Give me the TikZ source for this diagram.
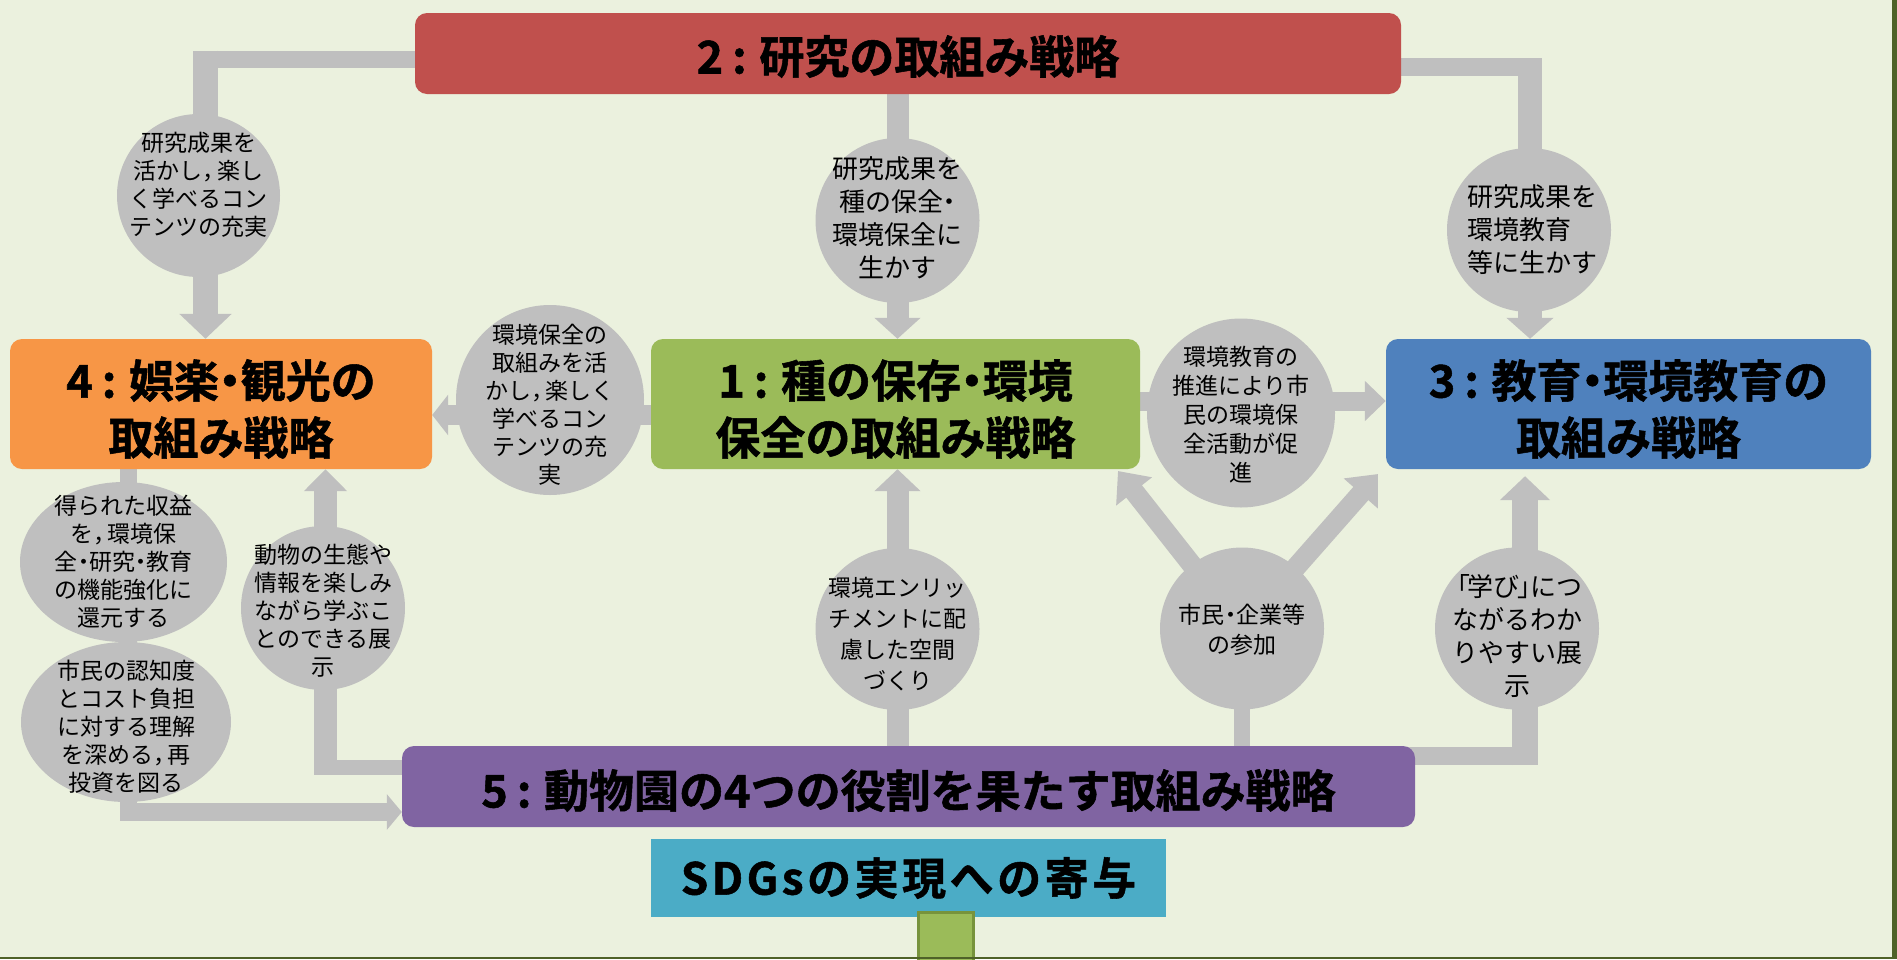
\documentclass[tikz,border=0pt]{standalone}
\usepackage{fontspec}
\newfontfamily\jp{Noto Sans CJK JP}[BoldFont={Noto Sans CJK JP Bold}]
\newfontfamily\jpt{Noto Sans CJK JP Bold}[FakeBold=1.2]
\usetikzlibrary{arrows.meta,shapes.geometric}
\pgfdeclarelayer{back}
\pgfdeclarelayer{conns}
\pgfsetlayers{back,conns,main}
\definecolor{bgc}{RGB}{235,241,222}
\definecolor{gr}{RGB}{191,191,191}
\definecolor{cred}{RGB}{192,80,77}
\definecolor{cgreen}{RGB}{155,187,89}
\definecolor{cblue}{RGB}{79,129,189}
\definecolor{corange}{RGB}{247,150,70}
\definecolor{cpurple}{RGB}{128,100,162}
\definecolor{ccyan}{RGB}{75,172,198}
\definecolor{edgec}{RGB}{79,98,40}
\definecolor{gbord}{RGB}{119,147,60}
\newcommand\nd{\kern-0.26em・\kern-0.26em}
\newcommand\cl{\kern0.2em:\kern0.28em}
\newcommand\cm{，\kern-0.35em}
\begin{document}
\begin{tikzpicture}[x=1pt,y=-1pt,
  box/.style={rounded corners=12pt, inner sep=0pt, align=center, font=\jpt\fontsize{45}{57}\selectfont},
  ell/.style={ellipse, fill=gr, inner sep=0pt},
  etxt/.style={align=center, inner sep=0pt, font=\jp\fontsize{23}{28}\selectfont},
  etxtb/.style={align=center, inner sep=0pt, font=\jp\fontsize{26}{33}\selectfont},
  conn/.style={draw=gr, line cap=butt},
]
\useasboundingbox (0,0) rectangle (1897,959);
\begin{pgfonlayer}{back}
\fill[bgc] (0,0) rectangle (1897,959);
\end{pgfonlayer}

% boxes
\node[box, fill=cred, minimum width=986pt, minimum height=81pt] (red) at (908,53.5) {};
\node (redt) [font=\jpt\fontsize{45}{57}\selectfont, inner sep=0pt] at ([yshift=-3pt]red.center) {2\cl 研究の取組み戦略};
\node[box, fill=cgreen, minimum width=489pt, minimum height=130pt] (green) at (895.5,404) {};
\node (greent) [box] at ([yshift=-5pt]green.center) {1\cl 種の保存\nd 環境\\保全の取組み戦略};
\node[box, fill=corange, minimum width=422pt, minimum height=130pt] (orange) at (221,404) {};
\node (oranget) [box] at ([yshift=-5pt]orange.center) {4\cl 娯楽\nd 観光の\\取組み戦略};
\node[box, fill=cblue, minimum width=485pt, minimum height=130pt] (blue) at (1628.5,404) {};
\node (bluet) [box] at ([yshift=-5pt]blue.center) {3\cl 教育\nd 環境教育の\\取組み戦略};
\node[box, fill=cpurple, minimum width=1013pt, minimum height=81pt] (purple) at (908.5,786.5) {};
\node (purplet) [box] at ([yshift=-4pt]purple.center) {5\cl 動物園の4つの役割を果たす取組み戦略};
\node[fill=ccyan, minimum width=515pt, minimum height=78pt, inner sep=0pt, font=\jpt\fontsize{44}{50}\selectfont\addfontfeature{LetterSpace=8}] (sdg) at (908.5,878) {SDGsの実現への寄与};
\node[fill=cgreen, draw=gbord, line width=3pt, minimum width=55pt, minimum height=50pt, inner sep=0pt] (stub) at (945.5,937) {};

% ellipses
\node[ell, minimum width=163pt, minimum height=163pt] (e1) at (198.5,195.5) {};
\node[etxt] (l1) at ([yshift=11pt]e1.center) {研究成果を\\活かし\cm 楽し\\く学べるコン\\テンツの充実};
\node[ell, minimum width=188pt, minimum height=190pt] (e2) at (550,400) {};
\node[etxt] (l2) at ([yshift=-5pt]e2.center) {環境保全の\\取組みを活\\かし\cm 楽しく\\学べるコン\\テンツの充\\実};
\node[ell, minimum width=164pt, minimum height=165pt] (e3) at (897.5,220.5) {};
\node[etxtb] (l3) at ([yshift=3pt]e3.center) {研究成果を\\種の保全\nd\\環境保全に\\生かす};
\node[ell, minimum width=188pt, minimum height=189pt] (e4) at (1241,413) {};
\node[etxt, font=\jp\fontsize{23}{29}\selectfont] (l4) at ([yshift=-2pt]e4.center) {環境教育の\\推進により市\\民の環境保\\全活動が促\\進};
\node[ell, minimum width=164pt, minimum height=164pt] (e5) at (1529,230) {};
\node[etxtb, align=left, anchor=west] (l5) at ([xshift=-62pt]e5.center) {研究成果を\\環境教育\\等に生かす};
\node[ell, minimum width=207pt, minimum height=160pt] (e6) at (123.5,562) {};
\node[etxt] (l6) at (e6.center) {得られた収益\\を\cm 環境保\\全\nd 研究\nd 教育\\の機能強化に\\還元する};
\node[ell, minimum width=210pt, minimum height=160pt] (e7) at (126,722) {};
\node[etxt] (l7) at ([yshift=-5pt]e7.center) {市民の認知度\\とコスト負担\\に対する理解\\を深める\cm 再\\投資を図る};
\node[ell, minimum width=164pt, minimum height=164pt] (e8) at (323,608) {};
\node[etxt] (l8) at ([yshift=-3pt]e8.center) {動物の生態や\\情報を楽しみ\\ながら学ぶこ\\とのできる展\\示};
\node[ell, minimum width=164pt, minimum height=162pt] (e9) at (897.5,629) {};
\node[etxt, font=\jp\fontsize{23}{31}\selectfont] (l9) at ([yshift=-5pt]e9.center) {環境エンリッ\\チメントに配\\慮した空間\\づくり};
\node[ell, minimum width=164pt, minimum height=162pt] (e10) at (1242,628.5) {};
\node[etxt, font=\jp\fontsize{23}{30}\selectfont] (l10) at ([yshift=-1pt]e10.center) {市民\nd 企業等\\の参加};
\node[ell, minimum width=164pt, minimum height=162pt] (e11) at (1517,628.5) {};
\node[etxtb] (l11) at ([yshift=-8pt]e11.center) {\kern-0.3em「\kern-0.1em 学び\kern-0.1em」\kern-0.5em につ\\ながるわか\\りやすい展\\示};

% connectors
\begin{pgfonlayer}{conns}
% C1
\coordinate (c1h) at (193,59);
\coordinate (c1v) at (205.5,50.5);
\draw[conn, line width=17pt] (c1h) -- (c1h -| red.west);
\draw[conn, line width=25pt, -{Triangle[width=51pt,length=25pt]}] (c1v) -- (c1v |- orange.north);
% C2
\draw[conn, line width=22pt, -{Triangle[width=45pt,length=21pt]}] (e3.center |- red.south) -- (e3.center |- green.north);
% C3
\coordinate (c3h) at (1542,67);
\coordinate (c3v) at (1530,58);
\draw[conn, line width=18pt] (red.east |- c3h) -- (c3h);
\draw[conn, line width=24pt, -{Triangle[width=46pt,length=21pt]}] (c3v) -- (c3v |- blue.north);
% C4
\coordinate (c4) at (600,415);
\draw[conn, line width=20pt, -{Triangle[width=40pt,length=16pt]}] (green.west |- c4) -- (orange.east |- c4);
% C5
\coordinate (c5) at (1200,401);
\draw[conn, line width=19pt, -{Triangle[width=39pt,length=21pt]}] (green.east |- c5) -- (blue.west |- c5);
% C6
\draw[conn, line width=22pt, -{Triangle[width=45pt,length=22pt]}] (e9.center |- purple.north) -- (e9.center |- green.south);
% C7
\draw[conn, line width=16pt] (e10.center |- purple.north) -- (e10.center);
\coordinate (t1) at (1118,471);
\coordinate (t2) at (1378,474);
\draw[conn, line width=20pt, -{Triangle[width=44pt,length=26pt]}] (e10.center) -- (t1);
\draw[conn, line width=20pt, -{Triangle[width=44pt,length=26pt]}] (e10.center) -- (t2);
% C8
\coordinate (c8h) at (1538,756);
\coordinate (c8v) at (1525,765);
\draw[conn, line width=18pt, shorten <=-35pt] (purple.east |- c8h) -- (c8h);
\draw[conn, line width=26pt, shorten >=7pt, -{Triangle[width=49pt,length=24pt]}] (c8v) -- (c8v |- blue.south);
% C9
\coordinate (c9) at (128.5,821);
\coordinate (c9h) at (120,812);
\draw[conn, line width=17pt] (c9 |- orange.south) -- (c9);
\draw[conn, line width=18pt, -{Triangle[width=35pt,length=15pt]}] (c9h) -- (c9h -| purple.west);
% C10
\coordinate (c10h) at (314,767);
\coordinate (c10v) at (325.5,774.5);
\draw[conn, line width=15pt, shorten <=-10pt] (purple.west |- c10h) -- (c10h);
\draw[conn, line width=23pt, -{Triangle[width=42pt,length=22pt]}] (c10v) -- (c10v |- orange.south);
\end{pgfonlayer}

% page edges
\fill[edgec] (1892,0) rectangle (1897,959);
\fill[edgec] (0,956.5) rectangle (1897,959);
\end{tikzpicture}
\end{document}
